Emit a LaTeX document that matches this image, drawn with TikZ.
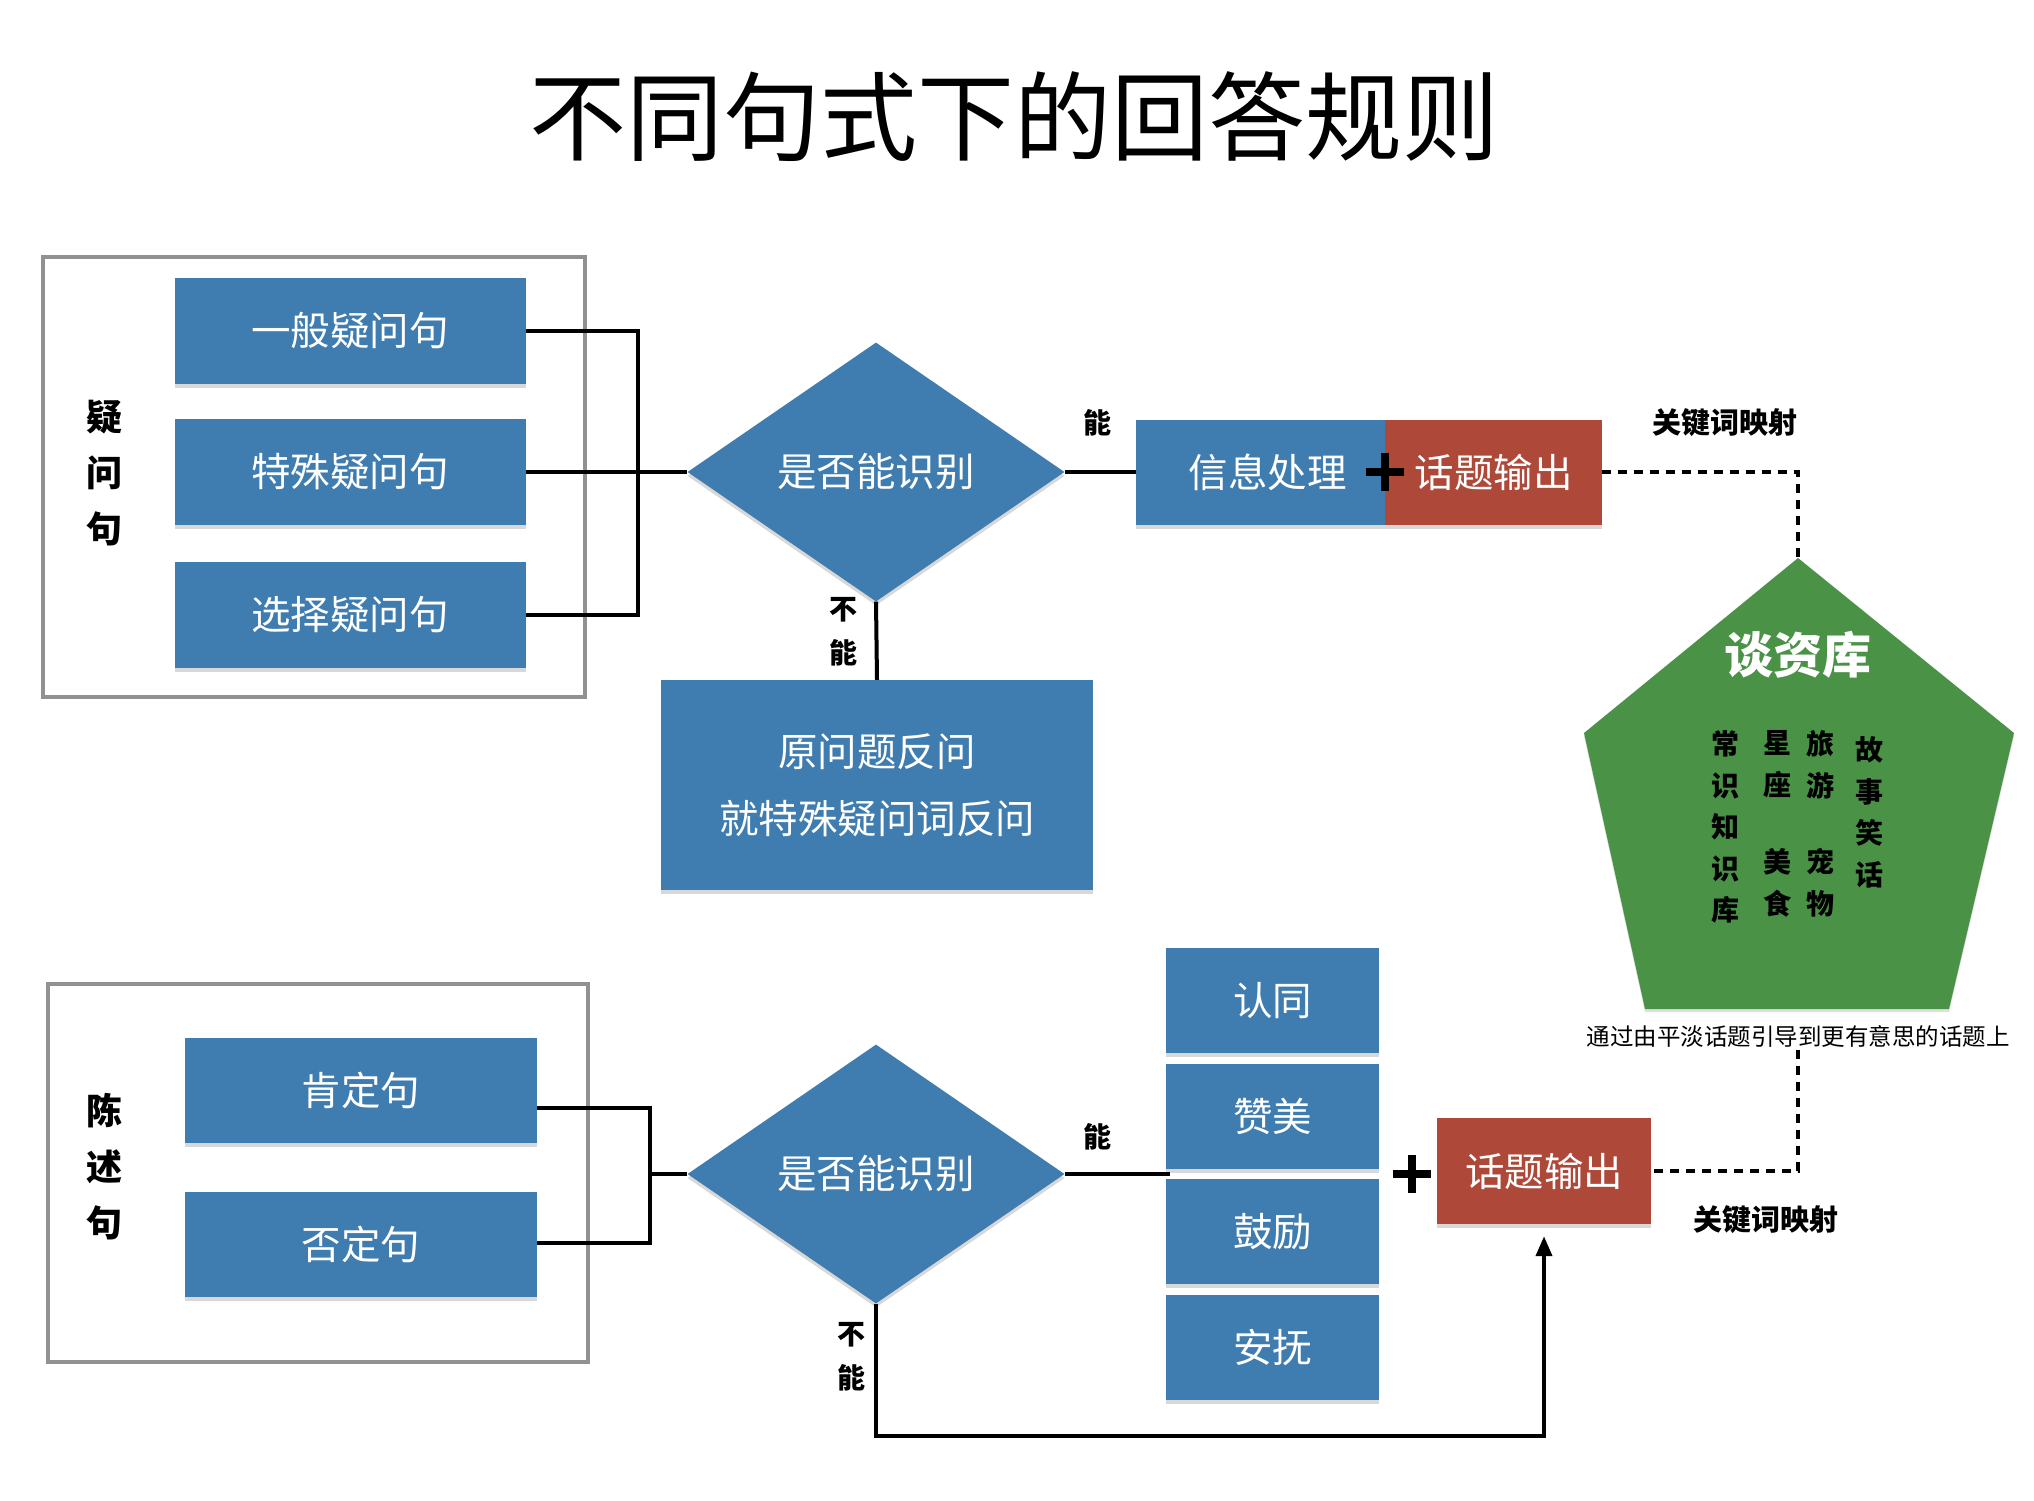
\documentclass[tikz,border=0pt]{standalone}
\usepackage{fontspec}
\setmainfont{Noto Sans CJK SC}
\usetikzlibrary{shapes.geometric,arrows.meta,shadows,calc}
\definecolor{boxblue}{RGB}{63,124,176}
\definecolor{boxred}{RGB}{174,72,56}
\definecolor{boxgreen}{RGB}{74,146,70}
\definecolor{framegray}{RGB}{145,145,148}
\begin{document}
\begin{tikzpicture}[x=1pt,y=-1pt,
  shad/.style={drop shadow={opacity=0.3,shadow xshift=0pt,shadow yshift=-4pt}},
  bluebox/.style={fill=boxblue,draw=none,text=white,inner sep=0pt,shad,
    font=\fontsize{39.5}{47}\selectfont},
  redbox/.style={bluebox,fill=boxred},
  decision/.style={diamond,fill=boxblue,text=white,inner sep=0pt,aspect=1.456,
    minimum width=377pt,minimum height=259pt,shad,font=\fontsize{39.5}{47}\selectfont},
  frame/.style={draw=framegray,line width=3.5pt,fill=none,inner sep=0pt},
  sidelabel/.style={align=center,font=\bfseries\fontsize{36}{56}\selectfont},
  smalllabel/.style={align=center,font=\bfseries\fontsize{28}{44}\selectfont},
  kwlabel/.style={font=\bfseries\fontsize{29}{35}\selectfont},
  link/.style={draw=black,line width=4pt},
  dashlink/.style={draw=black,line width=4pt,dash pattern=on 9pt off 7pt},
  arrowlink/.style={link,-{Triangle[length=20pt,width=16pt]}},
  plusnode/.style={minimum size=38pt,inner sep=0pt},
  plusline/.style={draw=black,line width=8pt},
  pentext/.style={align=center,font=\bfseries\fontsize{28}{41.5}\selectfont}
]
\useasboundingbox (0,0) rectangle (2034,1500);
\fill[white] (0,0) rectangle (2034,1500);

% title
\node[font=\fontsize{97}{110}\selectfont] (title) at (1014,117) {不同句式下的回答规则};

% ===== group 1 =====
\node[frame,minimum width=542pt,minimum height=440pt] (g1) at (314,477) {};
\node[sidelabel] (lab1) at (104,473) {疑\\问\\句};
\node[bluebox,minimum width=351pt,minimum height=106pt] (q1) at (350,331) {一般疑问句};
\node[bluebox,minimum width=351pt,minimum height=106pt] (q2) at (350,472) {特殊疑问句};
\node[bluebox,minimum width=351pt,minimum height=106pt] (q3) at (350,615) {选择疑问句};
\node[decision] (d1) at (876,472) {是否能识别};
\coordinate (j1) at (638,472);
\draw[link] (q1.east) -| (j1) |- (q3.east);
\draw[link] (q2.east) -- (d1.west);

\node[bluebox,minimum width=249pt,minimum height=105pt] (info) at (1260.5,472) {\hspace*{14pt}信息处理};
\node[redbox,minimum width=217pt,minimum height=105pt] (r1) at (1493.5,472) {话题输出};
\node[plusnode] (plus1) at (1385,472) {};
\draw[plusline] (plus1.north) -- (plus1.south) (plus1.west) -- (plus1.east);
\draw[link] (d1.east) -- (info.west);
\node[smalllabel] (neng1) at (1097,423) {能};
\node[kwlabel] (kw1) at (1725,423) {关键词映射};

\node[bluebox,minimum width=432pt,minimum height=210pt,align=center,
  font=\fontsize{39.5}{67}\selectfont] (fan) at (877,785) {原问题反问\\就特殊疑问词反问};
\draw[link] (d1.south) -- (fan.north);
\node[smalllabel] (buneng1) at (843,632) {不\\能};

% ===== pentagon =====
\coordinate (ptop) at (1798,558);
\coordinate (pul) at (1584,733);
\coordinate (pur) at (2014,733);
\coordinate (pbl) at (1645,1009);
\coordinate (pbr) at (1949,1009);
\fill[boxgreen,drop shadow={opacity=0.25,shadow xshift=0pt,shadow yshift=-3pt}]
  (ptop) -- (pur) -- (pbr) -- (pbl) -- (pul) -- cycle;
\node[text=white,font=\bfseries\fontsize{49}{55}\selectfont] (tan) at (1798,655) {谈资库};
\node[pentext,anchor=north] (c1) at (1725,727) {常\\识\\知\\识\\库};
\node[pentext,anchor=north] (c2) at (1777,727) {星\\座};
\node[pentext,anchor=north] (c3) at (1777,845) {美\\食};
\node[pentext,anchor=north] (c4) at (1820,727) {旅\\游};
\node[pentext,anchor=north] (c5) at (1820,845) {宠\\物};
\node[pentext,anchor=north] (c6) at (1869,733) {故\\事\\笑\\话};
\node[font=\fontsize{23.5}{28}\selectfont] (cap) at (1798,1036) {通过由平淡话题引导到更有意思的话题上};
\draw[dashlink] (r1.east) -| (ptop);

% ===== group 2 =====
\node[frame,minimum width=540pt,minimum height=378pt] (g2) at (318,1173) {};
\node[sidelabel] (lab2) at (104,1167) {陈\\述\\句};
\node[bluebox,minimum width=352pt,minimum height=105pt] (s1) at (361,1090.5) {肯定句};
\node[bluebox,minimum width=352pt,minimum height=105pt] (s2) at (361,1244.5) {否定句};
\node[decision] (d2) at (876,1174) {是否能识别};
\coordinate (j2) at (650,1174);
\draw[link] ($(s1.east)+(0,17)$) -| (j2) |- ($(s2.east)+(0,-2)$);
\draw[link] (j2) -- (d2.west);

\node[bluebox,minimum width=213pt,minimum height=105pt] (a1) at (1272.5,1000.5) {认同};
\node[bluebox,minimum width=213pt,minimum height=105pt] (a2) at (1272.5,1116.5) {赞美};
\node[bluebox,minimum width=213pt,minimum height=105pt] (a3) at (1272.5,1231.5) {鼓励};
\node[bluebox,minimum width=213pt,minimum height=105pt] (a4) at (1272.5,1347.5) {安抚};
\coordinate (c2in) at (1170,1174);
\draw[link] (d2.east) -- (c2in);
\node[smalllabel] (neng2) at (1097,1137) {能};

\node[plusnode] (plus2) at (1412,1174) {};
\draw[plusline] (plus2.north) -- (plus2.south) (plus2.west) -- (plus2.east);
\node[redbox,minimum width=214pt,minimum height=106pt] (r2) at (1544,1171) {话题输出};
\node[kwlabel] (kw2) at (1766,1220) {关键词映射};
\draw[dashlink] (cap.south) |- (r2.east);

\node[smalllabel] (buneng2) at (851,1357) {不\\能};
\coordinate (b2) at (876,1436);
\draw[arrowlink,shorten >=12pt] (d2.south) -- (b2) -| (r2.south);
\end{tikzpicture}
\end{document}
